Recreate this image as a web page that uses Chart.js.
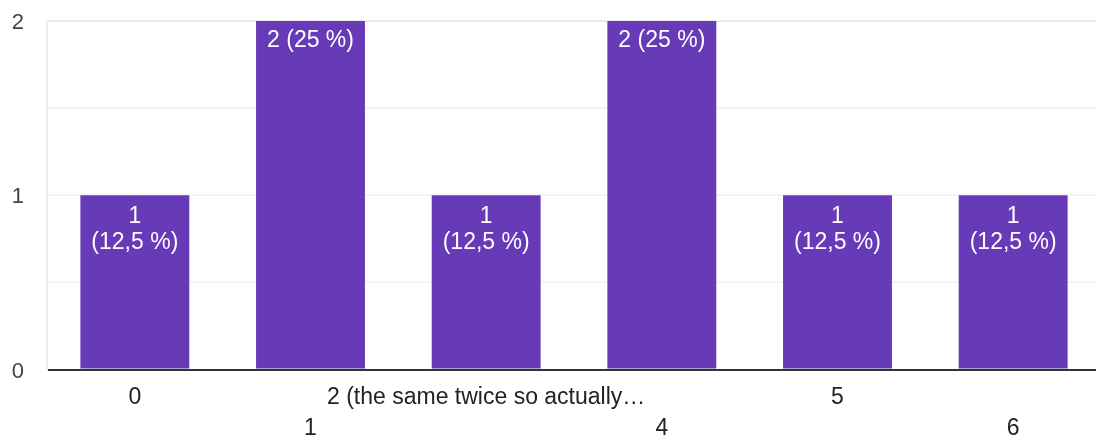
<!DOCTYPE html>
<html>
<head>
<meta charset="utf-8">
<script src="https://cdn.jsdelivr.net/npm/chart.js@4/dist/chart.umd.min.js"></script>
<style>
  html, body { margin: 0; padding: 0; background: #fff; overflow: hidden; }
  #wrap { position: absolute; left: 0; top: 0; width: 1101px; height: 435px; }
</style>
</head>
<body>
<div id="wrap"><canvas id="chart" width="1101" height="435"></canvas></div>
<script>
// Answers and how many people gave each one
const categories = ['0', '1', '2 (the same twice so actually…', '4', '5', '6'];
const counts = [1, 2, 1, 2, 1, 1];
const yTicks = [0, 1, 2];

const FONT = '"Liberation Sans", Arial, sans-serif';
const total = counts.reduce((a, b) => a + b, 0);

// Alternate category labels between two rows so long answers don't collide
const xLabels = categories.map((c, i) => (i % 2 === 0 ? [c] : ['', c]));

function pctText(v) {
  const p = Math.round((v / total) * 1000) / 10;
  return String(p).replace('.', ',') + ' %';
}

// White value + percentage labels drawn inside the top of each bar
const barLabels = {
  id: 'barLabels',
  afterDatasetsDraw(chart) {
    const ctx = chart.ctx;
    const meta = chart.getDatasetMeta(0);
    ctx.save();
    ctx.fillStyle = '#ffffff';
    ctx.font = '23px ' + FONT;
    ctx.textAlign = 'center';
    ctx.textBaseline = 'middle';
    meta.data.forEach((bar, i) => {
      const v = counts[i];
      const full = v + ' (' + pctText(v) + ')';
      const w = bar.width;
      const top = bar.y;
      if (ctx.measureText(full).width <= w - 8) {
        ctx.fillText(full, bar.x, top + 20);
      } else {
        ctx.fillText(String(v), bar.x, top + 21);
        ctx.fillText('(' + pctText(v) + ')', bar.x, top + 47.5);
      }
    });
    ctx.restore();
  }
};

new Chart(document.getElementById('chart'), {
  type: 'bar',
  data: {
    labels: xLabels,
    datasets: [{
      data: counts,
      backgroundColor: '#673ab7',
      borderWidth: 0,
      barPercentage: 0.62,
      categoryPercentage: 1.0
    }]
  },
  options: {
    responsive: false,
    animation: false,
    devicePixelRatio: 1,
    layout: { padding: { top: 21, left: 0, right: 0, bottom: 0 } },
    plugins: { legend: { display: false }, tooltip: { enabled: false } },
    scales: {
      x: {
        grid: { display: false, drawTicks: false },
        border: { display: true, color: '#333333', width: 2 },
        ticks: {
          color: '#222222',
          font: { family: FONT, size: 23, lineHeight: 1.37 },
          padding: 12,
          maxRotation: 0,
          autoSkip: false
        },
        afterFit(scale) {
          scale.height = 65.5;
          scale.paddingLeft = 0;
          scale.paddingRight = 0;
        }
      },
      y: {
        min: 0,
        max: 2,
        grid: {
          drawTicks: false,
          lineWidth: 2,
          color: (c) => {
            const v = c.tick ? c.tick.value : null;
            if (v === 0) return '#333333';
            if (v === 2) return '#ebebeb';
            return '#f4f4f4';
          }
        },
        border: { display: true, color: '#ececec', width: 2 },
        ticks: {
          stepSize: 0.5,
          color: '#444444',
          font: { family: FONT, size: 22 },
          padding: 23,
          labelOffset: 2,
          callback: (v) => (yTicks.includes(v) ? String(v) : '')
        },
        afterFit(scale) {
          scale.width = 47;
          scale.paddingTop = 0;
          scale.paddingBottom = 0;
        }
      }
    }
  },
  plugins: [barLabels]
});
</script>
</body>
</html>
